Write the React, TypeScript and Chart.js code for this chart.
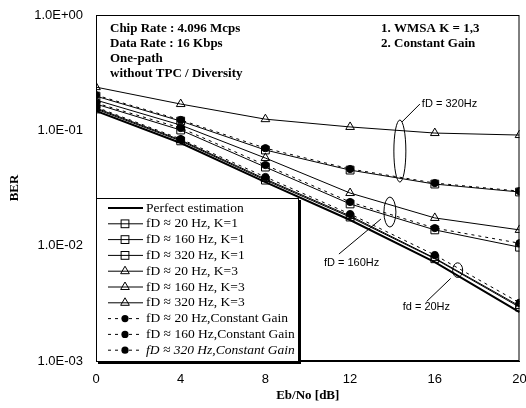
import React, { useEffect, useRef } from "react";
import { Chart, registerables } from "chart.js";
Chart.register(...registerables);

const ebno = [0, 4, 8, 12, 16, 20];
const perfect = [0.147, 0.0776, 0.0356, 0.0167, 0.0072, 0.00265];
const fd20K1 = [0.153, 0.081, 0.037, 0.0177, 0.0077, 0.00293];
const fd160K1 = [0.169, 0.1006, 0.048, 0.023, 0.0137, 0.0097];
const fd320K1 = [0.198, 0.1204, 0.0675, 0.0452, 0.0342, 0.0292];
const fd20K3 = [0.156, 0.0824, 0.0378, 0.0181, 0.0078, 0.003];
const fd160K3 = [0.183, 0.111, 0.0575, 0.0286, 0.0174, 0.0137];
const fd320K3 = [0.237, 0.169, 0.125, 0.107, 0.0947, 0.091];
const fd20CG = [0.159, 0.0841, 0.0394, 0.0188, 0.0083, 0.0032];
const fd160CG = [0.1725, 0.1047, 0.05, 0.0239, 0.0142, 0.0105];
const fd320CG = [0.202, 0.123, 0.07, 0.0462, 0.0349, 0.0297];
const yTickValues = [1, 0.1, 0.01, 0.001];

const legendLabels = [
  "Perfect estimation",
  "fD ≈ 20 Hz, K=1",
  "fD ≈ 160 Hz, K=1",
  "fD ≈ 320 Hz, K=1",
  "fD ≈ 20 Hz, K=3",
  "fD ≈ 160 Hz, K=3",
  "fD ≈ 320 Hz, K=3",
  "fD ≈ 20 Hz,Constant Gain",
  "fD ≈ 160 Hz,Constant Gain",
  "fD ≈ 320 Hz,Constant Gain",
];
const infoLeft = ["Chip Rate : 4.096 Mcps", "Data Rate : 16 Kbps", "One-path", "without TPC / Diversity"];
const infoRight = ["1. WMSA K = 1,3", "2. Constant Gain"];

const SERIF = "'Liberation Serif', 'Times New Roman', serif";
const SANS = "'Liberation Sans', Arial, sans-serif";

type Kind = "perfect" | "k1" | "k3" | "cg";

function makeDs(label: string, data: number[], kind: Kind) {
  const base: any = {
    label,
    data: data.map((y, i) => ({ x: ebno[i], y })),
    borderColor: "#000",
    borderWidth: 1,
    pointBorderColor: "#000",
    pointBorderWidth: 1,
    tension: 0,
    kind,
  };
  if (kind === "perfect") {
    base.borderWidth = 2;
    base.pointRadius = 0;
  } else if (kind === "k1") {
    base.pointStyle = "rect";
    base.pointRadius = 5.5;
    base.pointBackgroundColor = "rgba(0,0,0,0)";
  } else if (kind === "k3") {
    base.pointStyle = "triangle";
    base.pointRadius = 5;
    base.pointBackgroundColor = "rgba(0,0,0,0)";
  } else {
    base.pointStyle = "circle";
    base.pointRadius = 3.6;
    base.pointBackgroundColor = "#000";
    base.borderDash = [3, 4];
  }
  return base;
}

function drawMarker(ctx: CanvasRenderingContext2D, kind: Kind, x: number, y: number) {
  ctx.save();
  ctx.setLineDash([]);
  ctx.lineWidth = 1;
  ctx.strokeStyle = "#000";
  ctx.fillStyle = "#000";
  if (kind === "k1") {
    const s = 5.5 * Math.SQRT1_2;
    ctx.strokeRect(x - s, y - s, 2 * s, 2 * s);
  } else if (kind === "k3") {
    const r = 5;
    ctx.beginPath();
    ctx.moveTo(x, y - r);
    ctx.lineTo(x + r * Math.cos(Math.PI / 6), y + r / 2);
    ctx.lineTo(x - r * Math.cos(Math.PI / 6), y + r / 2);
    ctx.closePath();
    ctx.stroke();
  } else if (kind === "cg") {
    ctx.beginPath();
    ctx.arc(x, y, 3.6, 0, Math.PI * 2);
    ctx.fill();
  }
  ctx.restore();
}

const overlay = {
  id: "overlay",
  afterDraw(chart: any) {
    const ctx: CanvasRenderingContext2D = chart.ctx;
    const xs = chart.scales.x;
    const ys = chart.scales.y;
    const a = chart.chartArea;
    ctx.save();
    // plot frame
    ctx.strokeStyle = "#000";
    ctx.lineWidth = 1;
    ctx.setLineDash([]);
    ctx.strokeRect(a.left + 0.5, a.top + 0.5, a.right - a.left - 1, a.bottom - a.top - 1);

    // info texts
    ctx.fillStyle = "#000";
    ctx.textBaseline = "middle";
    ctx.textAlign = "left";
    ctx.font = `bold 13px ${SERIF}`;
    infoLeft.forEach((t, i) => ctx.fillText(t, 110, 29 + i * 15));
    infoRight.forEach((t, i) => ctx.fillText(t, 381, 29 + i * 15));

    // ellipses
    const ell = (cxv: number, topv: number, botv: number, rx: number) => {
      const cx = xs.getPixelForValue(cxv);
      const t = ys.getPixelForValue(topv);
      const b = ys.getPixelForValue(botv);
      ctx.beginPath();
      ctx.ellipse(cx, (t + b) / 2, rx, (b - t) / 2, 0, 0, Math.PI * 2);
      ctx.stroke();
      return { cx, t, b };
    };
    ctx.lineWidth = 1;
    const e320 = ell(14.35, 0.1228, 0.0356, 6);
    const e160 = ell(13.88, 0.0264, 0.0145, 6);
    const e20 = ell(17.08, 0.0071, 0.0053, 5);

    ctx.font = `11px ${SANS}`;
    // 320 label
    ctx.beginPath();
    ctx.moveTo(e320.cx + 2, e320.t + 2);
    ctx.lineTo(e320.cx + 20, e320.t - 16);
    ctx.stroke();
    ctx.fillText("fD = 320Hz", e320.cx + 22, e320.t - 16);
    // 160 label
    ctx.beginPath();
    ctx.moveTo(e160.cx - 9, (e160.t + e160.b) / 2 + 7);
    ctx.lineTo(e160.cx - 51, (e160.t + e160.b) / 2 + 42);
    ctx.stroke();
    ctx.fillText("fD = 160Hz", e160.cx - 66, (e160.t + e160.b) / 2 + 51);
    // 20 label
    ctx.beginPath();
    ctx.moveTo(e20.cx - 7, e20.b + 1);
    ctx.lineTo(e20.cx - 31, e20.b + 24);
    ctx.stroke();
    ctx.fillText("fd = 20Hz", e20.cx - 55, e20.b + 30);

    // legend box
    const L = 96, T = 198, R = 299, B = 362;
    ctx.fillStyle = "#fff";
    ctx.fillRect(L, T, R - L, B - T);
    ctx.fillStyle = "#000";
    ctx.fillRect(R - 1, T + 2, 3, B - T);
    ctx.fillRect(L + 2, B - 1, R - L, 3);
    ctx.strokeRect(L + 0.5, T + 0.5, R - L - 1, B - T - 1);
    const rowH = 15.8;
    chart.data.datasets.forEach((ds: any, i: number) => {
      const y = T + 10 + i * rowH;
      const kind: Kind = ds.kind;
      ctx.save();
      ctx.strokeStyle = "#000";
      ctx.lineWidth = kind === "perfect" ? 2 : 1;
      if (kind === "cg") ctx.setLineDash([3, 4]);
      ctx.beginPath();
      ctx.moveTo(108, y);
      ctx.lineTo(143, y);
      ctx.stroke();
      ctx.restore();
      drawMarker(ctx, kind, 125, y);
      ctx.fillStyle = "#000";
      ctx.font = i === 9 ? `italic 13.5px ${SERIF}` : `13.5px ${SERIF}`;
      ctx.textBaseline = "middle";
      ctx.fillText(legendLabels[i], 146, y);
    });
    ctx.restore();
  },
};

export default function App() {
  const ref = useRef<HTMLCanvasElement>(null);
  useEffect(() => {
    if (!ref.current) return;
    const datasets = [
      makeDs(legendLabels[0], perfect, "perfect"),
      makeDs(legendLabels[1], fd20K1, "k1"),
      makeDs(legendLabels[2], fd160K1, "k1"),
      makeDs(legendLabels[3], fd320K1, "k1"),
      makeDs(legendLabels[4], fd20K3, "k3"),
      makeDs(legendLabels[5], fd160K3, "k3"),
      makeDs(legendLabels[6], fd320K3, "k3"),
      makeDs(legendLabels[7], fd20CG, "cg"),
      makeDs(legendLabels[8], fd160CG, "cg"),
      makeDs(legendLabels[9], fd320CG, "cg"),
    ];
    const chart = new Chart(ref.current, {
      type: "line",
      data: { datasets },
      plugins: [overlay],
      options: {
        animation: false,
        responsive: false,
        devicePixelRatio: 1,
        layout: { padding: { left: 0, top: 15, right: 5, bottom: 0 } },
        plugins: { legend: { display: false }, tooltip: { enabled: false } },
        scales: {
          x: {
            type: "linear",
            min: 0,
            max: 20,
            grid: { display: false, drawTicks: false },
            border: { display: true, color: "#000", width: 1 },
            ticks: {
              stepSize: 4,
              padding: 11,
              color: "#000",
              font: { family: SANS, size: 13 },
            },
            title: {
              display: true,
              text: "Eb/No [dB]",
              color: "#000",
              font: { family: SERIF, size: 13, weight: "bold" },
              padding: { top: 0, bottom: 5 },
            },
            afterFit: (s: any) => {
              s.height = 47;
              s.paddingLeft = 0;
              s.paddingRight = 0;
            },
          },
          y: {
            type: "logarithmic",
            min: 0.001,
            max: 1,
            grid: { display: false, drawTicks: false },
            border: { display: true, color: "#000", width: 1 },
            afterBuildTicks: (s: any) => {
              s.ticks = yTickValues.map((v) => ({ value: v }));
            },
            ticks: {
              padding: 13,
              color: "#000",
              font: { family: SANS, size: 13 },
              callback: (v: any) => {
                const e = Math.round(Math.log10(Number(v)));
                return "1.0E" + (e >= 0 ? "+" : "-") + String(Math.abs(e)).padStart(2, "0");
              },
            },
            title: {
              display: true,
              text: "BER",
              color: "#000",
              font: { family: SERIF, size: 13, weight: "bold" },
              padding: { top: 7, bottom: 0 },
            },
            afterFit: (s: any) => {
              s.width = 96;
              s.paddingTop = 0;
              s.paddingBottom = 0;
            },
          },
        },
      } as any,
    });
    return () => chart.destroy();
  }, []);
  return (
    <div style={{ position: "absolute", left: 0, top: 0, width: 526, height: 408, background: "#fff" }}>
      <canvas ref={ref} width={526} height={408} style={{ width: 526, height: 408 }} />
    </div>
  );
}
